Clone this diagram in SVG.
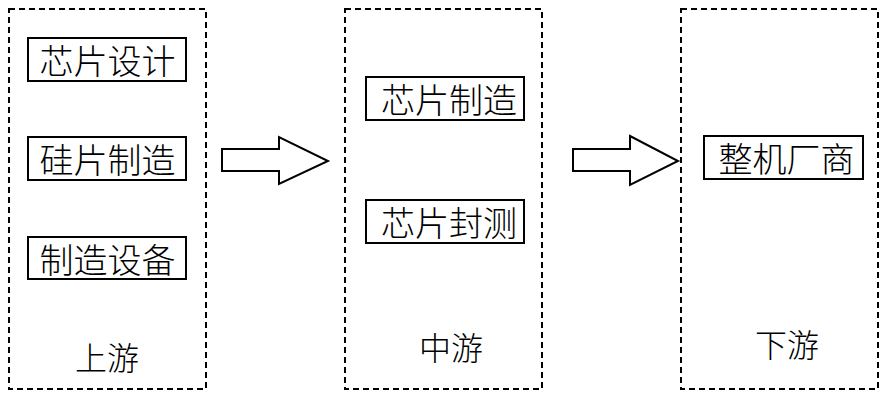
<svg xmlns="http://www.w3.org/2000/svg" width="887" height="401" viewBox="0 0 887 401">
<style>
.stage{fill:none;stroke:#000;stroke-width:2;stroke-dasharray:6 4}
.box{fill:#fff;stroke:#000;stroke-width:2}
.arrow{fill:#fff;stroke:#000;stroke-width:2;stroke-linejoin:miter}
text{font-family:"Noto Sans CJK SC","Noto Sans",sans-serif;font-weight:300;fill:#000;text-anchor:middle;dominant-baseline:central}
.t{font-size:34px}
.lbl{font-size:32px}
</style>
<rect width="887" height="401" fill="#fff"/>
<g id="upstream">
<rect class="stage" x="9" y="9" width="197" height="380"/>
<text class="lbl" x="107" y="356">上游</text>
</g>
<g id="chip-design"><rect class="box" x="28" y="38" width="158" height="43"/><text class="t" x="107.5" y="59">芯片设计</text></g>
<g id="wafer"><rect class="box" x="28" y="137" width="158" height="43"/><text class="t" x="107.5" y="158">硅片制造</text></g>
<g id="equipment"><rect class="box" x="28" y="237" width="158" height="42"/><text class="t" x="107.5" y="258">制造设备</text></g>
<g id="midstream">
<rect class="stage" x="345" y="9" width="197" height="380"/>
<text class="lbl" x="451" y="346">中游</text>
</g>
<g id="chip-mfg"><rect class="box" x="366" y="77" width="158" height="43"/><text class="t" x="449" y="98">芯片制造</text></g>
<g id="chip-pkg"><rect class="box" x="366" y="200" width="158" height="43"/><text class="t" x="449" y="221">芯片封测</text></g>
<g id="downstream">
<rect class="stage" x="681" y="9" width="197" height="380"/>
<text class="lbl" x="787" y="343">下游</text>
</g>
<g id="oem"><rect class="box" x="704" y="136" width="159" height="43"/><text class="t" x="786.5" y="157">整机厂商</text></g>
<g id="connectors">
<polygon class="arrow" points="222,149 279,149 279,137 328,161 279,184 279,171 222,171"/>
<polygon class="arrow" points="573,149 630,149 630,136 678,161 630,185 630,171 573,171"/>
</g>
</svg>
